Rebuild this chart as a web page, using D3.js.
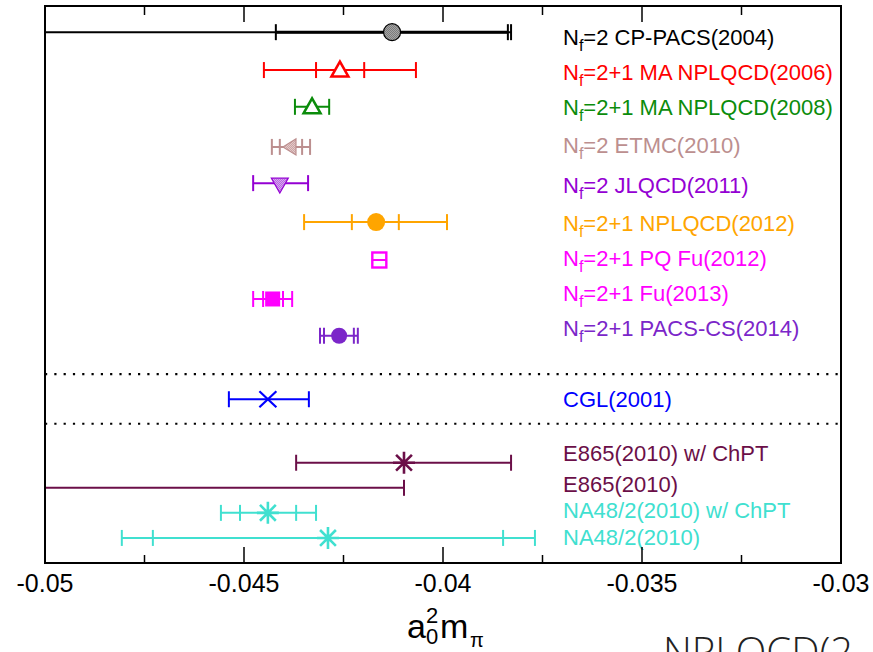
<!DOCTYPE html>
<html><head><meta charset="utf-8">
<script src="https://cdn.jsdelivr.net/npm/d3@7"></script>
<style>body{margin:0;background:#fff;} svg{display:block;font-family:"Liberation Sans",Arial,Helvetica,sans-serif;}</style>
</head><body>
<svg id="chart" width="873" height="652"></svg>
<script>
// ---------------- data ----------------
const prefixes = ["2","2+1 MA","2+1 MA","2","2","2+1","2+1 PQ","2+1","2+1","","","","",""];
const studies = ["CP-PACS(2004)","NPLQCD(2006)","NPLQCD(2008)","ETMC(2010)","JLQCD(2011)","NPLQCD(2012)","Fu(2012)","Fu(2013)","PACS-CS(2014)","CGL(2001)","E865(2010) w/ ChPT","E865(2010)","NA48/2(2010) w/ ChPT","NA48/2(2010)"];
const isLattice = [true,true,true,true,true,true,true,true,true,false,false,false,false,false];
const centers = [-0.04128,-0.04259,-0.04329,-0.04382,-0.04410,-0.04168,-0.04160,-0.04428,-0.04261,-0.04440,-0.04098,-0.0560,-0.04440,-0.04289];
const innerLo = [-0.04420,-0.04319,null,-0.04410,null,-0.04229,null,-0.04452,-0.04299,null,null,null,-0.04510,-0.04729];
const innerHi = [-0.03837,-0.04198,null,-0.04354,null,-0.04111,null,-0.04402,-0.04224,null,null,null,-0.04369,-0.03849];
const outerLo = [-0.0520,-0.04450,-0.04372,-0.04430,-0.04477,-0.04349,-0.04179,-0.04477,-0.04309,-0.04538,-0.04369,-0.0680,-0.04558,-0.04807];
const outerHi = [-0.03829,-0.04068,-0.04286,-0.04334,-0.04339,-0.03990,-0.04141,-0.04379,-0.04214,-0.04337,-0.03829,-0.04098,-0.04319,-0.03769];
// vertical placement in plot units (0 = bottom, 100 = top)
const rowY   = [95.3,88.5,81.9,74.7,68.2,61.2,54.4,47.4,40.8,29.4,18.0,13.5,9.0,4.5];
const labelY = [94.4,88.2,81.9,75.0,67.9,61.0,54.8,48.5,42.2,29.4,19.7,14.2,9.5,4.7];
const separators = [33.9,25.0];
const majorTicks = [-0.05,-0.045,-0.04,-0.035,-0.03];
const minorTicks = [-0.0475,-0.0425,-0.0375,-0.0325];
const tickLabels = ["-0.05","-0.045","-0.04","-0.035","-0.03"];

// ---------------- styles ----------------
const colors = ["#000000","#ff0000","#0b8c0b","#bc8f8f","#9400d3","#ffa500","#ff00ff","#ff00ff","#7b26c9","#0000ff","#6b0f48","#6b0f48","#40e0d0","#40e0d0"];
const markers = ["circleHatch","triUp","triUp","triLeft","triDown","circle","boxLine","square","circleSmall","cross","star","star","star","star"];

const W = 873, H = 652;
const M = {left:45, right:841, top:6, bottom:563};
const svg = d3.select("#chart");
const x = d3.scaleLinear().domain([-0.05,-0.03]).range([M.left, M.right]);
const y = d3.scaleLinear().domain([0,100]).range([M.bottom, M.top]);

const defs = svg.append("defs");
defs.append("clipPath").attr("id","clip").append("rect")
  .attr("x",M.left).attr("y",M.top).attr("width",M.right-M.left).attr("height",M.bottom-M.top);
function stipple(id, bg, fg){
  const p = defs.append("pattern").attr("id",id).attr("width",2).attr("height",2).attr("patternUnits","userSpaceOnUse");
  p.append("rect").attr("width",2).attr("height",2).attr("fill",bg);
  p.append("rect").attr("width",1).attr("height",1).attr("fill",fg);
  p.append("rect").attr("x",1).attr("y",1).attr("width",1).attr("height",1).attr("fill",fg);
}
stipple("grayDots","#b0b0b0","#707070");
stipple("roseDots","#e6cccc","#c9a3a3");
stipple("violetDots","#e0b0f0","#b060e0");

const plot = svg.append("g").attr("clip-path","url(#clip)");

// separators
plot.selectAll("line.sep").data(separators).join("line").attr("class","sep")
  .attr("x1",M.left).attr("x2",M.right).attr("y1",d=>y(d)).attr("y2",d=>y(d))
  .attr("stroke","#000").attr("stroke-width",2.2).attr("stroke-dasharray","2.2 7.1");

const capH = 8;
const rows = studies.map((s,i)=>({i}));
const g = plot.selectAll("g.row").data(rows).join("g").attr("class","row")
  .attr("transform",d=>`translate(0,${y(rowY[d.i])})`);

g.each(function(d){
  const i = d.i, sel = d3.select(this), c = colors[i];
  const lw = 2;
  sel.append("line").attr("x1",x(outerLo[i])).attr("x2",x(outerHi[i])).attr("y1",0).attr("y2",0)
    .attr("stroke",c).attr("stroke-width",lw);
  if(i===0){
    sel.append("line").attr("x1",x(innerLo[i])).attr("x2",x(innerHi[i])).attr("y1",0).attr("y2",0)
      .attr("stroke",c).attr("stroke-width",3);
  }
  const caps = [];
  if(markers[i]!=="boxLine"){ caps.push(outerLo[i], outerHi[i]); }
  if(innerLo[i]!==null){ caps.push(innerLo[i], innerHi[i]); }
  caps.forEach(v=>{
    sel.append("line").attr("x1",x(v)).attr("x2",x(v)).attr("y1",-capH).attr("y2",capH)
      .attr("stroke",c).attr("stroke-width",lw);
  });
  const cx = x(centers[i]);
  const m = markers[i];
  if(m==="circleHatch"){
    sel.append("circle").attr("cx",cx).attr("r",8.5).attr("fill","url(#grayDots)").attr("stroke","#000").attr("stroke-width",1.2);
  } else if(m==="circle"){
    sel.append("circle").attr("cx",cx).attr("r",9).attr("fill",c);
  } else if(m==="circleSmall"){
    sel.append("circle").attr("cx",cx).attr("r",8).attr("fill",c);
  } else if(m==="triUp"){
    sel.append("path").attr("d",`M${cx-8.5},${6.5} L${cx+8.5},${6.5} L${cx},${-8.5} Z`)
      .attr("fill","#fff").attr("stroke",c).attr("stroke-width",2.5);
  } else if(m==="triDown"){
    sel.append("path").attr("d",`M${cx-8.5},${-5} L${cx+8.5},${-5} L${cx},${10} Z`)
      .attr("fill","url(#violetDots)").attr("stroke",c).attr("stroke-width",1.2);
  } else if(m==="triLeft"){
    sel.append("path").attr("d",`M${cx+5},${-8} L${cx+5},${8} L${cx-8},${0} Z`)
      .attr("fill","url(#roseDots)").attr("stroke",c).attr("stroke-width",1.2);
  } else if(m==="square"){
    sel.append("rect").attr("x",cx-7.5).attr("y",-7.5).attr("width",15).attr("height",15).attr("fill",c);
  } else if(m==="boxLine"){
    sel.append("rect").attr("x",cx-7).attr("y",-7.5).attr("width",14).attr("height",15)
      .attr("fill","none").attr("stroke",c).attr("stroke-width",2.4);
  } else if(m==="cross"){
    sel.append("path").attr("d",`M${cx-8.5},-8 L${cx+8.5},8 M${cx-8.5},8 L${cx+8.5},-8`)
      .attr("stroke",c).attr("stroke-width",2.2).attr("fill","none");
  } else if(m==="star"){
    const r = 11, a = r*0.72;
    sel.append("path").attr("d",`M${cx},${-r} L${cx},${r} M${cx-r},0 L${cx+r},0 M${cx-a},${-a} L${cx+a},${a} M${cx-a},${a} L${cx+a},${-a}`)
      .attr("stroke",c).attr("stroke-width",2.6).attr("fill","none");
  }
});

// labels
const lab = svg.append("g").selectAll("text").data(rows).join("text")
  .attr("x",563).attr("y",d=>y(labelY[d.i])+8)
  .attr("fill",d=>colors[d.i]).attr("font-size",22);
lab.each(function(d){
  const t = d3.select(this), i = d.i;
  if(isLattice[i]){
    t.append("tspan").text("N");
    t.append("tspan").attr("font-size",16).attr("dy",6).text("f");
    t.append("tspan").attr("dy",-6).text("=" + prefixes[i] + " " + studies[i]);
  } else {
    t.text(studies[i]);
  }
});

// frame
svg.append("rect").attr("x",M.left).attr("y",M.top).attr("width",M.right-M.left).attr("height",M.bottom-M.top)
  .attr("fill","none").attr("stroke","#000").attr("stroke-width",2);

// ticks (inward, top and bottom)
const axG = svg.append("g");
axG.selectAll("line.mt").data(majorTicks).join("line").attr("class","mt")
  .attr("x1",d=>x(d)).attr("x2",d=>x(d)).attr("y1",M.top).attr("y2",M.top+16).attr("stroke","#000").attr("stroke-width",1.5);
axG.selectAll("line.mtb").data(majorTicks).join("line").attr("class","mtb")
  .attr("x1",d=>x(d)).attr("x2",d=>x(d)).attr("y1",M.bottom).attr("y2",M.bottom-16).attr("stroke","#000").attr("stroke-width",1.5);
axG.selectAll("line.nt").data(minorTicks).join("line").attr("class","nt")
  .attr("x1",d=>x(d)).attr("x2",d=>x(d)).attr("y1",M.top).attr("y2",M.top+9).attr("stroke","#000").attr("stroke-width",1.5);
axG.selectAll("line.ntb").data(minorTicks).join("line").attr("class","ntb")
  .attr("x1",d=>x(d)).attr("x2",d=>x(d)).attr("y1",M.bottom).attr("y2",M.bottom-8).attr("stroke","#000").attr("stroke-width",1.5);
axG.selectAll("text.tl").data(majorTicks).join("text").attr("class","tl")
  .attr("x",d=>x(d)).attr("y",592).attr("text-anchor","middle").attr("font-size",25)
  .text((d,i)=>tickLabels[i]);

// axis title a_0^2 m_pi
const tg = svg.append("g").attr("fill","#000");
tg.append("text").attr("x",407).attr("y",638).attr("font-size",34).text("a");
tg.append("text").attr("x",426).attr("y",623).attr("font-size",22).text("2");
tg.append("text").attr("x",426).attr("y",644).attr("font-size",22).text("0");
tg.append("text").attr("x",440).attr("y",638).attr("font-size",34).text("m");
tg.append("text").attr("x",470).attr("y",647).attr("font-size",20).text("π");

// stray caption cut at the bottom edge
svg.append("text").attr("x",663).attr("y",666).attr("font-size",40).attr("font-weight",300)
  .attr("font-family","'Open Sans',sans-serif").attr("fill","#222").text("NPLQCD(2");
</script>
</body></html>
